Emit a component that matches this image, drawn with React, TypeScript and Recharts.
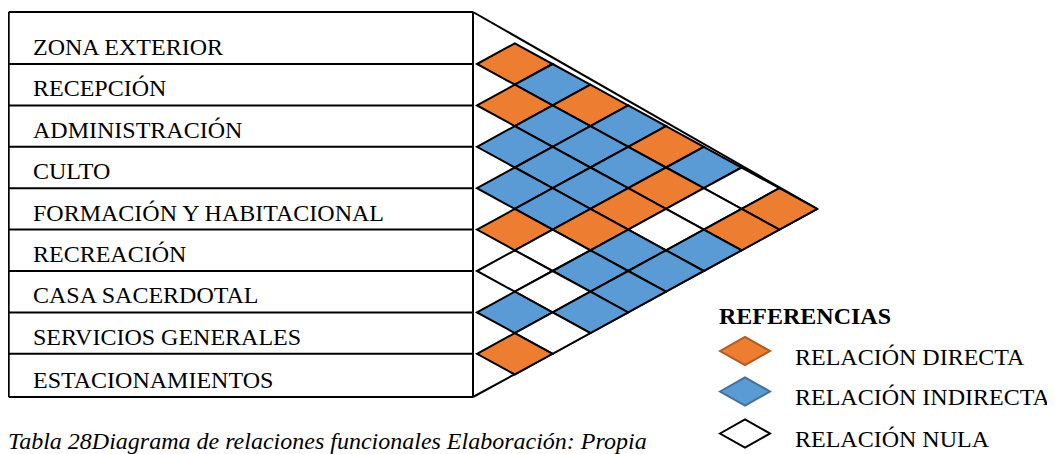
import React from 'react';
import { ScatterChart, Scatter, XAxis, YAxis, ReferenceLine, Customized } from 'recharts';

// Zones (rows of the matrix)
const ZONES = [
  'ZONA EXTERIOR',
  'RECEPCIÓN',
  'ADMINISTRACIÓN',
  'CULTO',
  'FORMACIÓN Y HABITACIONAL',
  'RECREACIÓN',
  'CASA SACERDOTAL',
  'SERVICIOS GENERALES',
  'ESTACIONAMIENTOS',
];

// Relation of each zone with the zones listed after it
// D = relación directa, I = relación indirecta, N = relación nula
const REL_ZONA_EXTERIOR = ['D', 'I', 'D', 'I', 'D', 'I', 'N', 'D'];
const REL_RECEPCION = ['D', 'I', 'I', 'I', 'D', 'N', 'D'];
const REL_ADMINISTRACION = ['I', 'I', 'I', 'D', 'N', 'I'];
const REL_CULTO = ['I', 'I', 'D', 'I', 'I'];
const REL_FORMACION = ['D', 'N', 'I', 'I'];
const REL_RECREACION = ['N', 'N', 'I'];
const REL_CASA_SACERDOTAL = ['I', 'N'];
const REL_SERVICIOS = ['D'];

const RELATIONS = [
  REL_ZONA_EXTERIOR,
  REL_RECEPCION,
  REL_ADMINISTRACION,
  REL_CULTO,
  REL_FORMACION,
  REL_RECREACION,
  REL_CASA_SACERDOTAL,
  REL_SERVICIOS,
];

const LEGEND_TITLE = 'REFERENCIAS';
const LEGEND_KEYS = ['D', 'I', 'N'];
const LEGEND_LABELS = ['RELACIÓN DIRECTA', 'RELACIÓN INDIRECTA', 'RELACIÓN NULA'];
const CAPTION = 'Tabla 28Diagrama de relaciones funcionales Elaboración: Propia';

// ---- styles / layout ----
const FONT = '"Liberation Serif", "Times New Roman", serif';
const FILL: Record<string, string> = { D: '#ED7D31', I: '#5B9BD5', N: '#FFFFFF' };
const LEGEND_STROKE: Record<string, string> = { D: '#B25A22', I: '#41719C', N: '#000000' };

const CHART_W = 1047;
const CHART_H = 446;
const PX_X = 37.8; // px per column unit
const PX_Y = 41.4; // px per row unit
const ORIGIN_X_PX = 469;
const FIRST_BOUNDARY_PX = 56;
const X_MIN = -ORIGIN_X_PX / PX_X;
const X_MAX = (CHART_W - ORIGIN_X_PX) / PX_X;
const Y_MIN = 1 - FIRST_BOUNDARY_PX / PX_Y;
const Y_MAX = Y_MIN + CHART_H / PX_Y;

const BOX_L = X_MIN + 0.7 / PX_X;
const BOX_R = -4 / PX_X;
const BOX_T = Y_MIN + 4 / PX_Y;
const BOX_B = Y_MIN + 389 / PX_Y;
const LABEL_X = X_MIN + 25 / PX_X;
const BASELINE_OFFSET = 9 / PX_Y;

// Build matrix cells
const cells: { x: number; y: number; type: string }[] = [];
RELATIONS.forEach((list, i) => {
  list.forEach((t, k) => {
    const a = i + 1;
    const b = i + 2 + k;
    cells.push({ x: b - a, y: (a + b - 1) / 2, type: t });
  });
});
const APEX = { x: ZONES.length, y: (1 + ZONES.length - 1) / 2 };

const rowLabels = ZONES.map((name, i) => ({
  x: LABEL_X,
  y: (i === ZONES.length - 1 ? BOX_B : i + 1) - BASELINE_OFFSET,
  name,
}));

const Diamond = (props: any) => {
  const { cx, cy, payload } = props;
  const w = PX_X;
  const h = PX_Y / 2;
  return (
    <polygon
      points={`${cx - w},${cy} ${cx},${cy - h} ${cx + w},${cy} ${cx},${cy + h}`}
      fill={FILL[payload.type]}
      stroke="#000"
      strokeWidth={2}
    />
  );
};

const RowLabel = (props: any) => {
  const { cx, cy, payload } = props;
  return (
    <text x={cx} y={cy} fontSize={24} fontFamily={FONT} fill="#000">
      {payload.name}
    </text>
  );
};

const LegendAndCaption = () => {
  const dx = 737;
  const ys = [343, 383.5, 425.5];
  const lys = [357, 397, 438.7];
  return (
    <g>
      <text x={711} y={316.3} fontSize={24} fontWeight="bold" fontFamily={FONT} fill="#000">
        {LEGEND_TITLE}
      </text>
      {LEGEND_KEYS.map((k, i) => (
        <g key={k}>
          <polygon
            points={`${dx - 25},${ys[i]} ${dx},${ys[i] - 14} ${dx + 25},${ys[i]} ${dx},${ys[i] + 14}`}
            fill={FILL[k]}
            stroke={LEGEND_STROKE[k]}
            strokeWidth={2}
          />
          <text x={787} y={lys[i]} fontSize={24} fontFamily={FONT} fill="#000">
            {LEGEND_LABELS[i]}
          </text>
        </g>
      ))}
      <text x={0} y={440.5} fontSize={24} fontStyle="italic" fontFamily={FONT} fill="#000">
        {CAPTION}
      </text>
    </g>
  );
};

const seg = (x1: number, y1: number, x2: number, y2: number) => [
  { x: x1, y: y1 },
  { x: x2, y: y2 },
];

export default function App() {
  const lines = [
    seg(BOX_L, BOX_T, BOX_R, BOX_T),
    seg(BOX_L, BOX_B, BOX_R, BOX_B),
    seg(BOX_L, BOX_T, BOX_L, BOX_B),
    seg(BOX_R, BOX_T, BOX_R, BOX_B),
    ...ZONES.slice(0, -1).map((_, i) => seg(BOX_L, i + 1, BOX_R, i + 1)),
    seg(BOX_R, BOX_T, APEX.x, APEX.y),
    seg(BOX_R, BOX_B, APEX.x, APEX.y),
  ];
  return (
    <div style={{ width: CHART_W, height: CHART_H }}>
      <ScatterChart width={CHART_W} height={CHART_H} margin={{ top: 0, right: 0, bottom: 0, left: 0 }}>
        <XAxis type="number" dataKey="x" domain={[X_MIN, X_MAX]} hide allowDataOverflow />
        <YAxis type="number" dataKey="y" domain={[Y_MIN, Y_MAX]} reversed hide allowDataOverflow />
        {lines.map((s, i) => (
          <ReferenceLine key={i} segment={s} stroke="#000" strokeWidth={2} ifOverflow="visible" />
        ))}
        <Scatter data={cells} shape={<Diamond />} isAnimationActive={false} />
        <Scatter data={rowLabels} shape={<RowLabel />} isAnimationActive={false} />
        <Customized component={LegendAndCaption} />
      </ScatterChart>
    </div>
  );
}
